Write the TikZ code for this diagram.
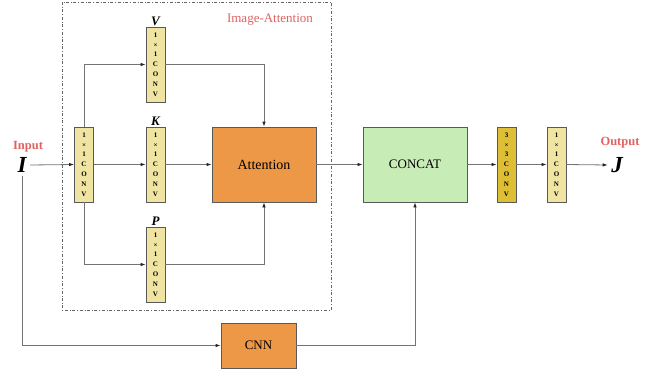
\documentclass[tikz,border=0pt]{standalone}
\usepackage{fontspec}
\setmainfont{Liberation Serif}
\usetikzlibrary{arrows.meta}
\definecolor{convyellow}{RGB}{240,228,162}
\definecolor{convgold}{RGB}{222,190,52}
\definecolor{attorange}{RGB}{236,152,70}
\definecolor{catgreen}{RGB}{200,236,182}
\definecolor{labelred}{RGB}{226,96,96}
\newcommand{\convtxt}[2]{#1\\×\\#2\\C\\O\\N\\V}
\begin{document}
\begin{tikzpicture}[
x=1pt,y=-1pt,
conv/.style={rectangle,draw=black!65,fill=convyellow,thick,inner sep=0pt,minimum width=19pt,minimum height=75pt,align=center,font=\bfseries\fontsize{7}{9.8}\selectfont},
block/.style={rectangle,draw=black!65,thick,inner sep=3pt,minimum width=104pt,minimum height=75pt,font=\fontsize{14}{16}\selectfont},
flow/.style={draw=black!55,thick,-{Latex[length=5pt,width=3.5pt,color=black!85]}},
qkv/.style={font=\bfseries\itshape\fontsize{13}{15}\selectfont},
io/.style={font=\bfseries\itshape\fontsize{23}{26}\selectfont},
iolabel/.style={text=labelred,font=\bfseries\fontsize{12.5}{14}\selectfont}
]
\useasboundingbox (0,0) rectangle (665,372);

% Image-Attention frame
\draw [black!60,dashdotted] (62,2) rectangle (331,310);
\node [text=labelred,font=\fontsize{13}{15}\selectfont] (frame) at (270,20) {Image-Attention};

% Input and output
\node [iolabel] (inlabel) at (28,147) {Input};
\node [io] (I) at (22,165) {I};
\node [iolabel] (outlabel) at (620,143) {Output};
\node [io] (J) at (617,165) {J};

% 1x1 convolutions
\node [conv] (c0) at (84,164.5) {\convtxt{1}{1}};
\foreach \name/\y/\lab in {v/64.5/V,k/164.5/K,p/264.5/P}{
  \node [conv] (\name) at (155.5,\y) {\convtxt{1}{1}};
  \node [qkv,anchor=south,inner sep=1pt] (\name lab) at (\name.north) {\lab};
}

% Blocks
\node [block,fill=attorange] (att) at (264,164.5) {Attention};
\node [block,fill=catgreen,font=\fontsize{13}{15}\selectfont] (concat) at (415,164.5) {CONCAT};
\node [block,fill=attorange,minimum width=75pt,minimum height=45pt,font=\fontsize{13}{15}\selectfont] (cnn) at (258.5,345.5) {CNN};
\node [conv,fill=convgold] (c33) at (506.5,164.5) {\convtxt{3}{3}};
\node [conv] (c11) at (556.5,164.5) {\convtxt{1}{1}};

% Connections
\draw [flow] (I.east) -- (c0.west);
\draw [flow] (c0.north) |- (v.west);
\draw [flow] (c0.east) -- (k.west);
\draw [flow] (c0.south) |- (p.west);
\draw [flow] (v.east) -| (att.north);
\draw [flow] (k.east) -- (att.west);
\draw [flow] (p.east) -| (att.south);
\draw [flow] (att.east) -- (concat.west);
\draw [flow] (I.south) |- (cnn.west);
\draw [flow] (cnn.east) -| (concat.south);
\draw [flow] (concat.east) -- (c33.west);
\draw [flow] (c33.east) -- (c11.west);
\draw [flow] (c11.east) -- (J.west);
\end{tikzpicture}
\end{document}
